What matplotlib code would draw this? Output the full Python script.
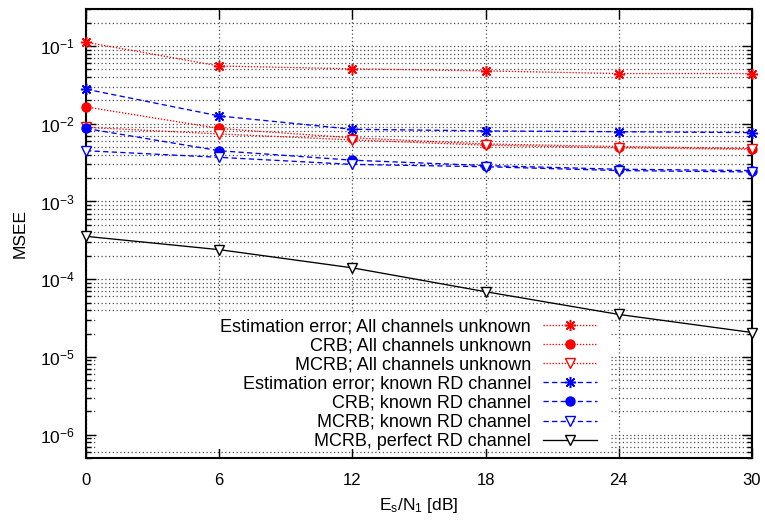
import matplotlib
matplotlib.use("Agg")
import matplotlib.pyplot as plt
import matplotlib.patches as mpatches
from matplotlib.ticker import LogLocator, NullFormatter, FixedLocator

plt.rcParams['font.family'] = ['Liberation Sans', 'DejaVu Sans']
plt.rcParams['mathtext.default'] = 'regular'

snr_db = [0, 6, 12, 18, 24, 30]

est_all_unknown = [0.112, 0.0554, 0.051, 0.0479, 0.0443, 0.0443]
crb_all_unknown = [0.0165, 0.0087, 0.0066, 0.0055, 0.0051, 0.0048]
mcrb_all_unknown = [0.0090, 0.0074, 0.0062, 0.0053, 0.0049, 0.0047]
est_known_rd = [0.0279, 0.0126, 0.0085, 0.0081, 0.0079, 0.0077]
crb_known_rd = [0.0087, 0.0045, 0.0034, 0.0029, 0.0026, 0.0025]
mcrb_known_rd = [0.0045, 0.0037, 0.0030, 0.0028, 0.0025, 0.0024]
mcrb_perfect_rd = [3.56e-4, 2.4e-4, 1.4e-4, 6.9e-5, 3.52e-5, 2.06e-5]

labels = [
    "Estimation error; All channels unknown",
    "CRB; All channels unknown",
    "MCRB; All channels unknown",
    "Estimation error; known RD channel",
    "CRB; known RD channel",
    "MCRB; known RD channel",
    "MCRB, perfect RD channel",
]
xticks = [0, 6, 12, 18, 24, 30]

fig = plt.figure(figsize=(7.65, 5.23), dpi=100)
ax = fig.add_axes([86/765, 1-458/523, (752-86)/765, (458-9)/523])

red = '#ff0000'
blue = '#0000ff'
dot = (0, (1, 1.3))
dash = (0, (4, 2.5))
star = (8, 2, 0)

series = [
    (est_all_unknown, red, dot, dict(marker=star, markersize=8, markeredgewidth=1.1, markerfacecolor=red)),
    (crb_all_unknown, red, dot, dict(marker='o', markersize=6.5, markerfacecolor=red)),
    (mcrb_all_unknown, red, dot, dict(marker='v', markersize=7, markerfacecolor='white', markeredgewidth=1.0)),
    (est_known_rd, blue, dash, dict(marker=star, markersize=8, markeredgewidth=1.1, markerfacecolor=blue)),
    (crb_known_rd, blue, dash, dict(marker='o', markersize=6.5, markerfacecolor=blue)),
    (mcrb_known_rd, blue, dash, dict(marker='v', markersize=7, markerfacecolor='white', markeredgewidth=1.0)),
    (mcrb_perfect_rd, 'black', '-', dict(marker='v', markersize=7, markerfacecolor='white', markeredgewidth=1.0)),
]

handles = []
for (vals, col, ls, mk), lab in zip(series, labels):
    h, = ax.plot(snr_db, vals, color=col, linestyle=ls, linewidth=0.95,
                 markeredgecolor=col, label=lab, zorder=4, clip_on=False, **mk)
    handles.append(h)

ax.set_yscale('log')
ax.set_xlim(0, 30)
ax.set_ylim(5e-7, 0.3)
ax.xaxis.set_major_locator(FixedLocator(xticks))
ax.yaxis.set_major_locator(LogLocator(base=10, numticks=20))
ax.yaxis.set_minor_locator(LogLocator(base=10, subs=range(2, 10), numticks=50))
ax.yaxis.set_minor_formatter(NullFormatter())

gkw = dict(color='0.3', linestyle=(0, (1, 2.0)), linewidth=0.9)
ax.grid(True, which='major', axis='x', **gkw)
ax.grid(True, which='both', axis='y', **gkw)
ax.set_axisbelow(True)

ax.tick_params(which='both', direction='in', top=True, right=True, width=1)
ax.tick_params(axis='x', which='major', labelsize=12, length=7, pad=10.5)
ax.tick_params(axis='y', which='major', labelsize=12.5, length=7, pad=8)
ax.tick_params(which='minor', length=3.5)
for s in ax.spines.values():
    s.set_linewidth(1.5)

ax.set_xlabel(r'E$_s$/N$_1$ [dB]', fontsize=12.5, labelpad=6)
ax.set_ylabel('MSEE', fontsize=12.5, labelpad=9)

# opaque key background
bg = mpatches.Rectangle((11/666, 9/449), (609-97)/666, (449-315)/449,
                        transform=ax.transAxes, facecolor='white', edgecolor='none', zorder=2)
ax.add_patch(bg)

leg = ax.legend(handles=handles, loc='lower right', bbox_to_anchor=((597-86)/666, (458-450)/449),
                frameon=False, markerfirst=False, alignment='right', fontsize=13,
                handlelength=3.0, handletextpad=0.66, labelspacing=0.12, borderpad=0,
                borderaxespad=0)
leg.set_zorder(5)

fig.savefig('out.png', dpi=100)
